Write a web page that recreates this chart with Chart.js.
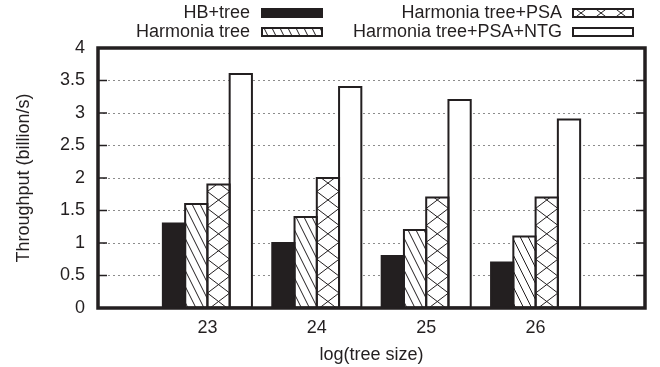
<!DOCTYPE html>
<html>
<head>
<meta charset="utf-8">
<script src="https://cdn.jsdelivr.net/npm/chart.js@4.4.1/dist/chart.umd.min.js"></script>
<style>
  html, body { margin: 0; padding: 0; background: #fff; }
  canvas { display: block; }
</style>
</head>
<body>
<canvas id="chart" width="660" height="367"></canvas>
<script>
// log2 of tree size
const treeSizes = ['23', '24', '25', '26'];
// throughput, billion/s
const hbTree = [1.3, 1.0, 0.8, 0.7];
const harmonia = [1.6, 1.4, 1.2, 1.1];
const harmoniaPsa = [1.9, 2.0, 1.7, 1.7];
const harmoniaPsaNtg = [3.6, 3.4, 3.2, 2.9];
const seriesNames = ['HB+tree', 'Harmonia tree', 'Harmonia tree+PSA', 'Harmonia tree+PSA+NTG'];

const INK = '#231f20';
const FAMILY = '"Liberation Sans", Arial, Helvetica, sans-serif';
const fills = ['solid', 'hatch', 'cross', 'empty'];

// empty slot on each side of the groups, like a gnuplot histogram
const labels = ['', ...treeSizes, ''];
const pad = arr => [null, ...arr, null];

// hatch / crosshatch inside a rect (rect already filled)
function drawPattern(ctx, x, y, w, h, kind, opts) {
  if (kind !== 'hatch' && kind !== 'cross') return;
  ctx.save();
  ctx.beginPath();
  ctx.rect(x, y, w, h);
  ctx.clip();
  ctx.strokeStyle = INK;
  ctx.lineWidth = 1;
  ctx.beginPath();
  if (kind === 'hatch') {
    const step = 8, run = h / 2;
    for (let sx = Math.floor((x - run) / step) * step; sx <= x + w; sx += step) {
      ctx.moveTo(sx, y);
      ctx.lineTo(sx + run, y + h);
    }
  } else {
    const p = opts.period, s = opts.slope, cx = opts.cx, yRef = opts.yRef;
    const dTop = (y - yRef) / s, dBot = (y + h - yRef) / s;
    for (let k = -60; k <= 60; k++) {
      const bx = cx + k * p;
      ctx.moveTo(bx + dTop, y);
      ctx.lineTo(bx + dBot, y + h);
      ctx.moveTo(bx - dTop, y);
      ctx.lineTo(bx - dBot, y + h);
    }
  }
  ctx.stroke();
  ctx.restore();
}

function outline(ctx, x, y, w, h) {
  ctx.save();
  ctx.strokeStyle = INK;
  ctx.lineWidth = 2;
  ctx.strokeRect(x, y, w, h);
  ctx.restore();
}

const barStyle = {
  id: 'barStyle',
  afterDatasetsDraw(chart) {
    const ctx = chart.ctx;
    const rects = [];
    chart.data.datasets.forEach((ds, i) => {
      const meta = chart.getDatasetMeta(i);
      meta.data.forEach((el, j) => {
        if (ds.data[j] == null) return;
        const { x, y, base, width } = el.getProps(['x', 'y', 'base', 'width'], true);
        const r = { x: x - width / 2, y: y, w: width, h: base - y };
        drawPattern(ctx, r.x, r.y, r.w, r.h, fills[i], { period: width, slope: 0.76, cx: x, yRef: base - 6 });
        rects.push(r);
      });
    });
    rects.forEach(r => outline(ctx, r.x, r.y, r.w, r.h));
  }
};

const frame = {
  id: 'frame',
  afterDraw(chart) {
    const ctx = chart.ctx;
    const { left, right, top, bottom } = chart.chartArea;
    const yScale = chart.scales.y;
    ctx.save();
    ctx.strokeStyle = INK;
    ctx.lineWidth = 1.5;
    ctx.beginPath();
    yScale.ticks.forEach(t => {
      const py = yScale.getPixelForValue(t.value);
      ctx.moveTo(left, py); ctx.lineTo(left + 9, py);
      ctx.moveTo(right - 9, py); ctx.lineTo(right, py);
    });
    ctx.stroke();
    ctx.lineWidth = 3.5;
    ctx.strokeRect(left, top, right - left, bottom - top);
    ctx.restore();
  }
};

// two-column key, text right-aligned before the sample box
const keyPlugin = {
  id: 'key',
  afterDraw(chart) {
    const ctx = chart.ctx;
    const cols = [{ textRight: 250, box: 262 }, { textRight: 562, box: 573 }];
    const rows = [13, 32];
    const boxW = 60, boxH = 8;
    ctx.save();
    ctx.font = '18px ' + FAMILY;
    ctx.fillStyle = INK;
    ctx.textAlign = 'right';
    ctx.textBaseline = 'middle';
    seriesNames.forEach((name, i) => {
      const c = cols[Math.floor(i / 2)], ry = rows[i % 2];
      ctx.fillStyle = INK;
      ctx.fillText(name, c.textRight, ry);
      const bx = c.box, by = ry - boxH / 2;
      ctx.fillStyle = fills[i] === 'solid' ? INK : '#fff';
      ctx.fillRect(bx, by, boxW, boxH);
      drawPattern(ctx, bx, by, boxW, boxH, fills[i], { period: 20, slope: 0.76, cx: bx + 8, yRef: ry });
      outline(ctx, bx, by, boxW, boxH);
    });
    ctx.restore();
  }
};

const tickFont = { family: FAMILY, size: 18 };

new Chart(document.getElementById('chart'), {
  type: 'bar',
  data: {
    labels: labels,
    datasets: [
      { label: seriesNames[0], data: pad(hbTree), backgroundColor: INK },
      { label: seriesNames[1], data: pad(harmonia), backgroundColor: '#fff' },
      { label: seriesNames[2], data: pad(harmoniaPsa), backgroundColor: '#fff' },
      { label: seriesNames[3], data: pad(harmoniaPsaNtg), backgroundColor: '#fff' }
    ]
  },
  options: {
    responsive: false,
    animation: false,
    layout: { padding: { top: 48, right: 15, left: 0, bottom: 0 } },
    datasets: { bar: { borderWidth: 0, barPercentage: 1, categoryPercentage: 0.814 } },
    plugins: { legend: { display: false }, tooltip: { enabled: false } },
    scales: {
      x: {
        offset: false,
        grid: { display: false, drawTicks: false },
        border: { display: false },
        ticks: { color: INK, font: tickFont, padding: 9, maxRotation: 0, autoSkip: false },
        title: { display: true, text: 'log(tree size)', color: INK, font: tickFont, padding: { top: 0, bottom: 1 } },
        afterFit: s => { s.height = 59; }
      },
      y: {
        min: 0,
        max: 4,
        grid: { color: '#8c8c8c', lineWidth: 1, drawTicks: false },
        border: { display: false, dash: [2, 3] },
        ticks: { stepSize: 0.5, color: INK, font: tickFont, padding: 13, callback: v => String(v) },
        title: { display: true, text: 'Throughput (billion/s)', color: INK, font: tickFont, padding: { top: 13, bottom: 0 } },
        afterFit: s => { s.width = 98; }
      }
    }
  },
  plugins: [barStyle, frame, keyPlugin]
});
</script>
</body>
</html>
